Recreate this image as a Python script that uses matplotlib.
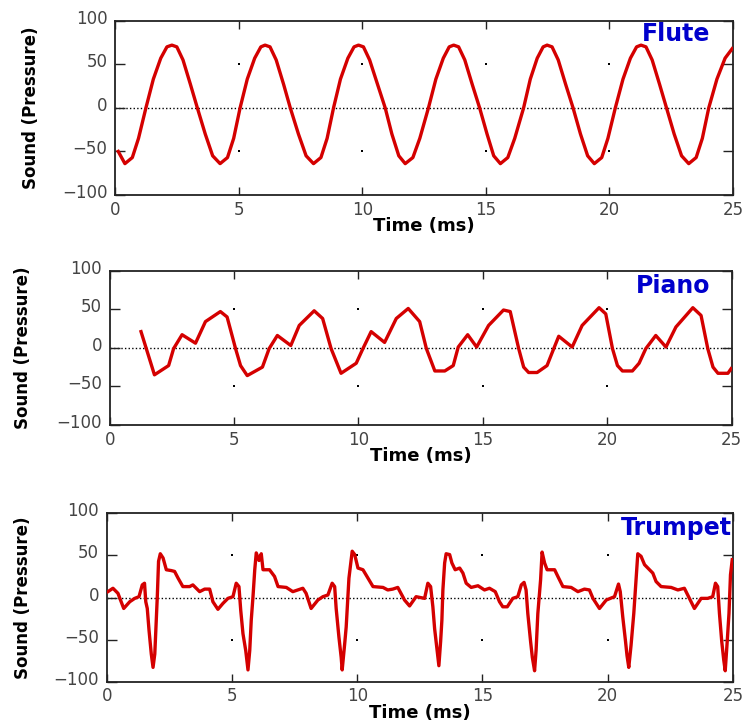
import matplotlib
matplotlib.use("Agg")
import matplotlib.pyplot as plt
import matplotlib.transforms as mtransforms
import numpy as np

# ---- Data (time in ms, pressure in arbitrary units) ----
FLUTE_T = [0.13, 0.40, 0.70, 0.95, 1.25, 1.55, 1.85, 2.10, 2.30, 2.50, 2.75, 3.05, 3.33,
           3.65, 3.95, 4.25, 4.55, 4.80, 5.06, 5.35, 5.65, 5.90, 6.07, 6.27, 6.52, 6.82,
           7.09, 7.42, 7.73, 8.03, 8.33, 8.58, 8.84, 9.12, 9.42, 9.67, 9.85, 10.05, 10.30,
           10.62, 10.93, 11.20, 11.48, 11.74, 12.05, 12.33, 12.68, 12.98, 13.28, 13.52,
           13.70, 13.90, 14.15, 14.45, 14.75, 15.05, 15.32, 15.59, 15.89, 16.17, 16.53,
           16.80, 17.08, 17.32, 17.48, 17.68, 17.93, 18.23, 18.53, 18.83, 19.12, 19.39,
           19.69, 19.94, 20.24, 20.55, 20.85, 21.10, 21.28, 21.48, 21.73, 22.03, 22.31,
           22.62, 22.92, 23.21, 23.51, 23.76, 24.02, 24.35, 24.68, 24.97]
FLUTE_P = [-50, -64, -57, -35, 0, 33, 57, 70, 72, 70, 55, 27, 0,
           -30, -55, -64, -57, -35, 0, 33, 57, 70, 72, 70, 55, 27,
           0, -30, -55, -64, -57, -35, 0, 33, 57, 70, 72, 70, 55,
           27, 0, -30, -55, -64, -57, -35, 0, 33, 57, 70,
           72, 70, 55, 27, 0, -30, -55, -64, -57, -35, 0,
           33, 57, 70, 72, 70, 55, 27, 0, -30, -55, -64,
           -57, -35, 0, 33, 57, 70, 72, 70, 55, 27, 0,
           -30, -55, -64, -57, -35, 0, 33, 57, 68]

PIANO_T = [1.26, 1.80, 2.37, 2.57, 2.91, 3.45, 3.85, 4.45, 4.72, 5.06, 5.26, 5.53,
           6.14, 6.41, 6.74, 7.28, 7.62, 8.22, 8.56, 8.90, 9.30, 9.91, 10.18, 10.51,
           11.05, 11.52, 12.00, 12.46, 12.73, 13.07, 13.47, 13.81, 14.01, 14.39, 14.75,
           15.23, 15.83, 16.10, 16.44, 16.64, 16.84, 17.18, 17.58, 17.85, 18.05, 18.59,
           18.99, 19.67, 19.94, 20.21, 20.41, 20.61, 21.01, 21.28, 21.55, 21.95, 22.36,
           22.76, 23.44, 23.77, 24.04, 24.25, 24.45, 24.85, 24.98]
PIANO_P = [21, -35, -23, -1, 17, 6, 34, 47, 40, -1, -23, -36,
           -25, -1, 16, 3, 29, 48, 38, -1, -33, -20, -1, 21,
           7, 38, 51, 34, -1, -30, -30, -23, 1, 17, 1,
           29, 49, 47, -1, -25, -32, -32, -23, -1, 15, 1,
           29, 52, 44, -1, -23, -30, -30, -20, -1, 16, 1,
           27, 52, 42, -1, -25, -33, -33, -27]

TRUMPET_T = [0.05, 0.25, 0.45, 0.68, 0.92, 1.12, 1.29, 1.42, 1.51, 1.56, 1.62, 1.69,
             1.78, 1.85, 1.92, 1.98, 2.02, 2.07, 2.14, 2.25, 2.38, 2.58, 2.71, 2.85,
             3.04, 3.31, 3.44, 3.71, 3.91, 4.11, 4.24, 4.44, 4.64, 4.84, 5.04, 5.17,
             5.28, 5.35, 5.44, 5.55, 5.64, 5.71, 5.77, 5.84, 5.91, 5.97, 6.08, 6.17,
             6.24, 6.50, 6.70, 6.84, 7.17, 7.43, 7.63, 7.83, 7.96, 8.16, 8.43, 8.63,
             8.83, 9.00, 9.10, 9.16, 9.27, 9.36, 9.40, 9.50, 9.56, 9.67, 9.80, 9.90,
             10.03, 10.23, 10.43, 10.63, 11.03, 11.22, 11.42, 11.62, 11.89, 12.09, 12.35,
             12.69, 12.82, 12.93, 13.02, 13.09, 13.19, 13.26, 13.33, 13.38, 13.42, 13.49,
             13.55, 13.69, 13.78, 13.91, 14.09, 14.22, 14.35, 14.55, 14.82, 15.08, 15.28,
             15.51, 15.68, 15.81, 15.99, 16.21, 16.41, 16.55, 16.66, 16.74, 16.81, 16.92,
             16.99, 17.08, 17.14, 17.21, 17.32, 17.38, 17.48, 17.58, 17.88, 18.01, 18.21,
             18.54, 18.81, 19.07, 19.27, 19.41, 19.67, 19.94, 20.27, 20.43, 20.50, 20.60,
             20.71, 20.77, 20.84, 20.93, 21.04, 21.13, 21.20, 21.33, 21.47, 21.60, 21.80,
             21.93, 22.13, 22.53, 22.80, 23.06, 23.26, 23.46, 23.73, 23.99, 24.19, 24.30,
             24.39, 24.46, 24.55, 24.63, 24.69, 24.77, 24.84, 24.90, 24.97]
TRUMPET_P = [7, 11, 5, -13, -5, -1, 1, 15, 17, -5, -13, -39,
             -67, -83, -67, -27, 1, 43, 52, 47, 33, 32, 31, 23,
             13, 13, 15, 7, 10, 10, -5, -14, -7, -1, 1, 17,
             13, -15, -43, -63, -86, -63, -27, 1, 33, 53, 44, 52,
             33, 33, 25, 13, 12, 7, 9, 11, 5, -13, -3, 1,
             3, 17, 13, -13, -47, -71, -86, -55, -35, 23, 55, 51,
             35, 33, 23, 13, 12, 9, 10, 12, -3, -10, 1,
             -1, 17, 13, -11, -37, -63, -81, -52, -27, 9, 41,
             52, 51, 41, 33, 35, 29, 17, 12, 14, 9, 11,
             7, -5, -11, -11, -1, 1, 15, 18, 9, -19, -52,
             -71, -87, -63, -19, 21, 54, 41, 33, 33, 25, 13,
             12, 7, 10, 9, -1, -13, -3, 1, 16, 7, -23,
             -52, -69, -83, -57, -19, 21, 52, 49, 39, 35, 29,
             19, 13, 12, 9, 11, -1, -13, -1, -1, 1, 17,
             13, -19, -52, -74, -87, -52, -19, 27, 45]

INSTRUMENTS = ["Flute", "Piano", "Trumpet"]
SERIES = [(FLUTE_T, FLUTE_P), (PIANO_T, PIANO_P), (TRUMPET_T, TRUMPET_P)]
X_TICKS = [0, 5, 10, 15, 20, 25]
Y_TICKS = [-100, -50, 0, 50, 100]
GRID_X = [5, 10, 15, 20]
GRID_Y = [-50, 50]

AX_RECTS = [
    [0.1546, 0.7299, 0.8306, 0.2414],
    [0.1474, 0.4114, 0.8360, 0.2137],
    [0.1434, 0.0558, 0.8418, 0.2332],
]
NAME_POS = [(0.963, 0.885), (0.965, 0.857), (0.998, 0.871)]
YLABEL_X = [-0.121, -0.125, -0.119]

RED = "#d40000"
BLUE = "#0000cc"
TICK_GRAY = "#444444"

fig = plt.figure(figsize=(7.44, 7.22), dpi=100, facecolor="white")
lift = mtransforms.ScaledTranslation(0, 4 / 100, fig.dpi_scale_trans)

for rect, (t, p), name, npos, ylx in zip(AX_RECTS, SERIES, INSTRUMENTS, NAME_POS, YLABEL_X):
    ax = fig.add_axes(rect)
    ax.set_xlim(0, 25)
    ax.set_ylim(-100, 100)

    # zero reference line and sparse grid dots
    ax.axhline(0, color="black", lw=1.0, ls=(0, (1, 1.6)), zorder=1)
    gx, gy = np.meshgrid(GRID_X, GRID_Y)
    ax.scatter(gx.ravel(), gy.ravel(), s=2, color="black", marker="s", lw=0, zorder=1)

    ax.plot(t, p, color=RED, lw=2.4, solid_joinstyle="round", zorder=3)

    ax.set_xticks(X_TICKS)
    ax.set_yticks(Y_TICKS)
    ax.tick_params(axis="both", direction="in", top=True, right=True,
                   labelsize=12, labelcolor=TICK_GRAY, color="#222222", width=1.0)
    ax.tick_params(axis="x", length=6, pad=4)
    ax.tick_params(axis="y", length=7, pad=5.5)
    for lbl in ax.get_yticklabels():
        lbl.set_transform(lbl.get_transform() + lift)

    for spine in ax.spines.values():
        spine.set_color("#222222")
        spine.set_linewidth(1.3)

    ax.set_xlabel("Time (ms)", fontsize=13, fontweight="bold", labelpad=-1)
    ax.set_ylabel("Sound (Pressure)", fontsize=12, fontweight="bold")
    ax.yaxis.set_label_coords(ylx, 0.5)

    ax.text(npos[0], npos[1], name, transform=ax.transAxes, ha="right", va="baseline",
            color=BLUE, fontsize=17, fontweight="bold")

fig.savefig("out.png", dpi=100, facecolor="white")
plt.close(fig)
